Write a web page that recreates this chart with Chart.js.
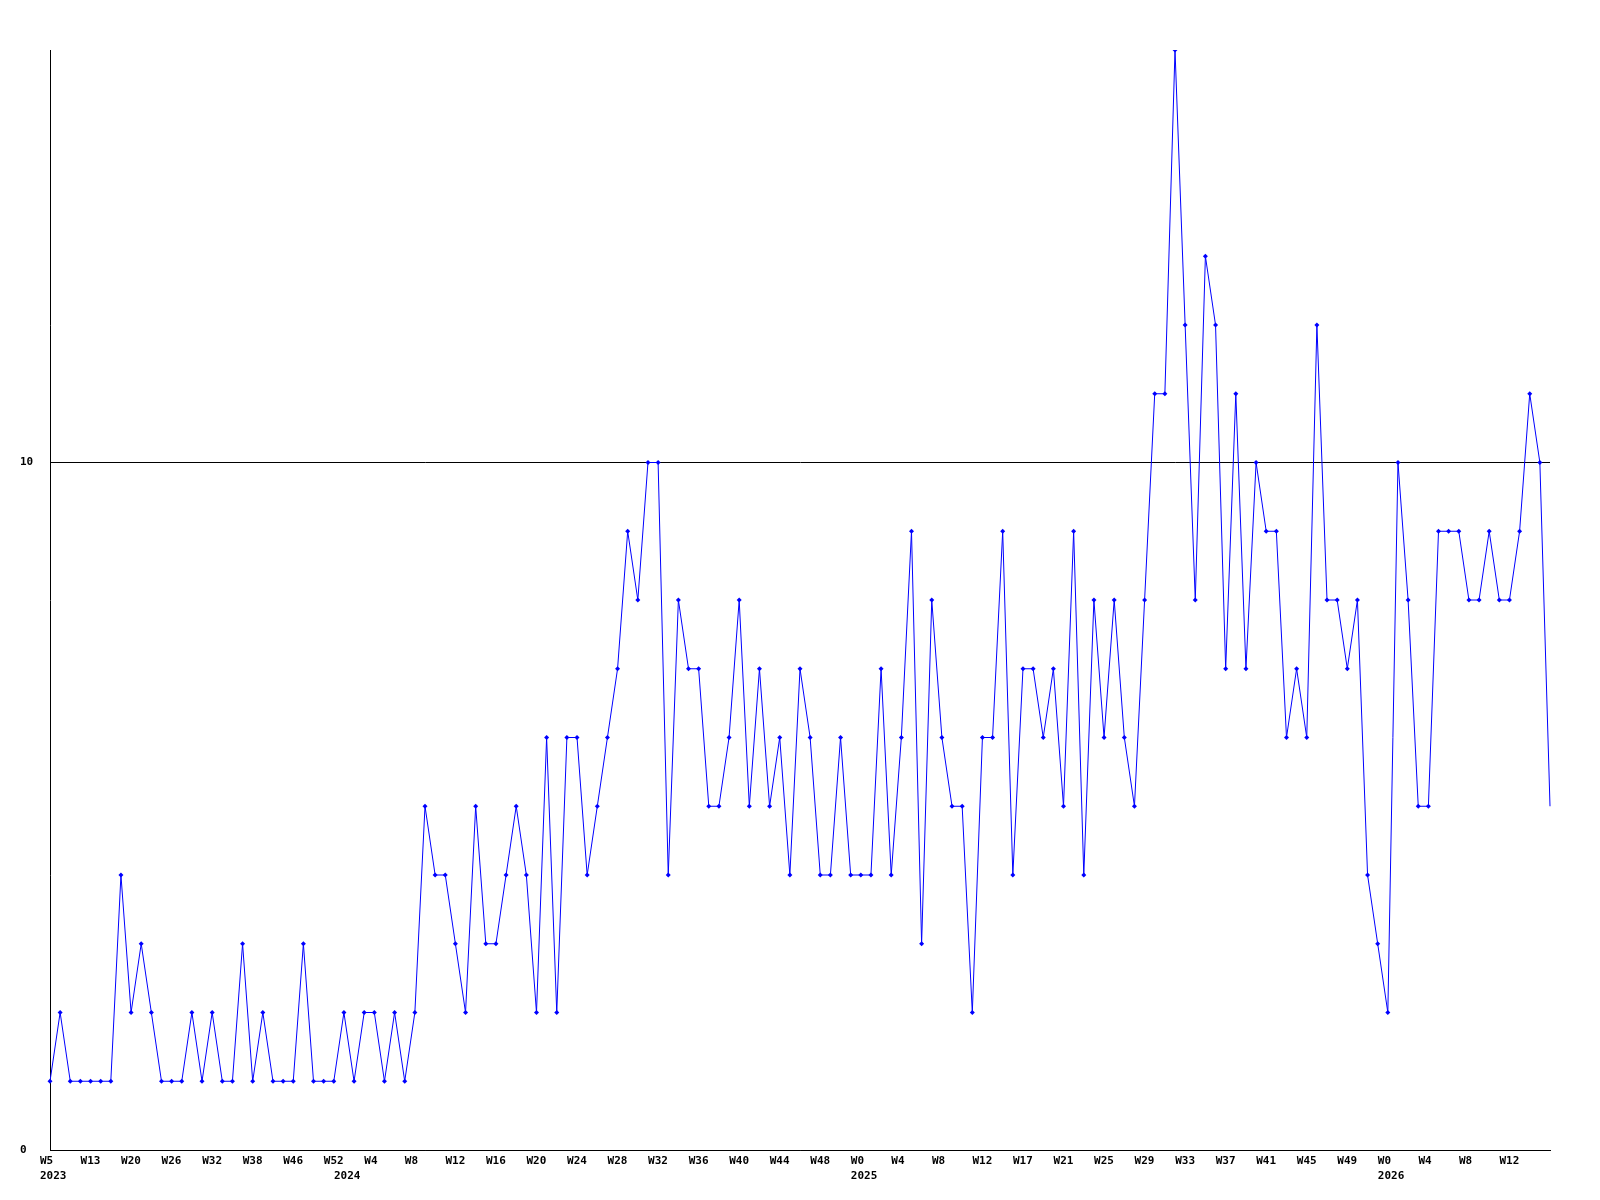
<!DOCTYPE html>
<html>
<head>
<meta charset="utf-8">
<script src="https://cdn.jsdelivr.net/npm/chart.js@4"></script>
<style>
  html, body { margin: 0; padding: 0; background: #fff; }
  #wrap { width: 1600px; height: 1200px; }
</style>
</head>
<body>
<div id="wrap"><canvas id="chart" width="1600" height="1200"></canvas></div>
<script>
// weekly counts, one per point
const values = [
  1, 2, 1, 1, 1, 1, 1, 4, 2, 3,
  2, 1, 1, 1, 2, 1, 2, 1, 1, 3,
  1, 2, 1, 1, 1, 3, 1, 1, 1, 2,
  1, 2, 2, 1, 2, 1, 2, 5, 4, 4,
  3, 2, 5, 3, 3, 4, 5, 4, 2, 6,
  2, 6, 6, 4, 5, 6, 7, 9, 8, 10,
  10, 4, 8, 7, 7, 5, 5, 6, 8, 5,
  7, 5, 6, 4, 7, 6, 4, 4, 6, 4,
  4, 4, 7, 4, 6, 9, 3, 8, 6, 5,
  5, 2, 6, 6, 9, 4, 7, 7, 6, 7,
  5, 9, 4, 8, 6, 8, 6, 5, 8, 11,
  11, 16, 12, 8, 13, 12, 7, 11, 7, 10,
  9, 9, 6, 7, 6, 12, 8, 8, 7, 8,
  4, 3, 2, 10, 8, 5, 5, 9, 9, 9,
  8, 8, 9, 8, 8, 9, 11, 10, 5
];

// week labels shown on every 4th point
const weekLabels = [
  "W5", "W13", "W20", "W26", "W32", "W38", "W46", "W52",
  "W4", "W8", "W12", "W16", "W20", "W24", "W28", "W32", "W36", "W40", "W44", "W48",
  "W0", "W4", "W8", "W12", "W17", "W21", "W25", "W29", "W33", "W37", "W41", "W45", "W49",
  "W0", "W4", "W8", "W12"
];
const yearLabels = ["2023", "2024", "2025", "2026"];
const yearAt = [0, 29, 80, 132];

const yTicks = [0, 10];

const font = { family: "'DejaVu Sans Mono', 'Liberation Mono', monospace", size: 11, weight: "bold", lineHeight: 15 / 11 };

new Chart(document.getElementById("chart").getContext("2d"), {
  type: "line",
  data: {
    labels: values.map((_, i) => i),
    datasets: [{
      data: values,
      borderColor: "#0000ff",
      backgroundColor: "#0000ff",
      borderWidth: 1,
      tension: 0,
      fill: false,
      pointStyle: "rectRot",
      pointRadius: ctx => ctx.dataIndex === values.length - 1 ? 0 : 2.5,
      pointBorderWidth: 0
    }]
  },
  options: {
    responsive: false,
    animation: false,
    devicePixelRatio: 1,
    layout: { padding: { left: 20, top: 50, right: 50, bottom: 0 } },
    plugins: { legend: { display: false }, tooltip: { enabled: false } },
    scales: {
      x: {
        grid: { display: false, drawTicks: false },
        border: { display: true, color: "#000", width: 1 },
        ticks: {
          autoSkip: false,
          maxRotation: 0,
          minRotation: 0,
          align: "start",
          labelOffset: -10,
          padding: 4,
          color: "#000",
          font: font,
          callback: (v, i) => {
            const w = i % 4 === 0 ? weekLabels[i / 4] : "";
            const y = yearAt.indexOf(i);
            return y >= 0 ? [w, yearLabels[y]] : w;
          }
        },
        afterFit: s => { s.height = 50; }
      },
      y: {
        min: 0,
        max: 16,
        grid: { color: "#000", lineWidth: 1, drawTicks: false },
        border: { display: true, color: "#000", width: 1 },
        afterBuildTicks: s => { s.ticks = yTicks.map(v => ({ value: v })); },
        afterFit: s => { s.width = 30; },
        ticks: {
          crossAlign: "far",
          color: "#000",
          font: font,
          callback: v => String(v)
        }
      }
    }
  }
});
</script>
</body>
</html>
